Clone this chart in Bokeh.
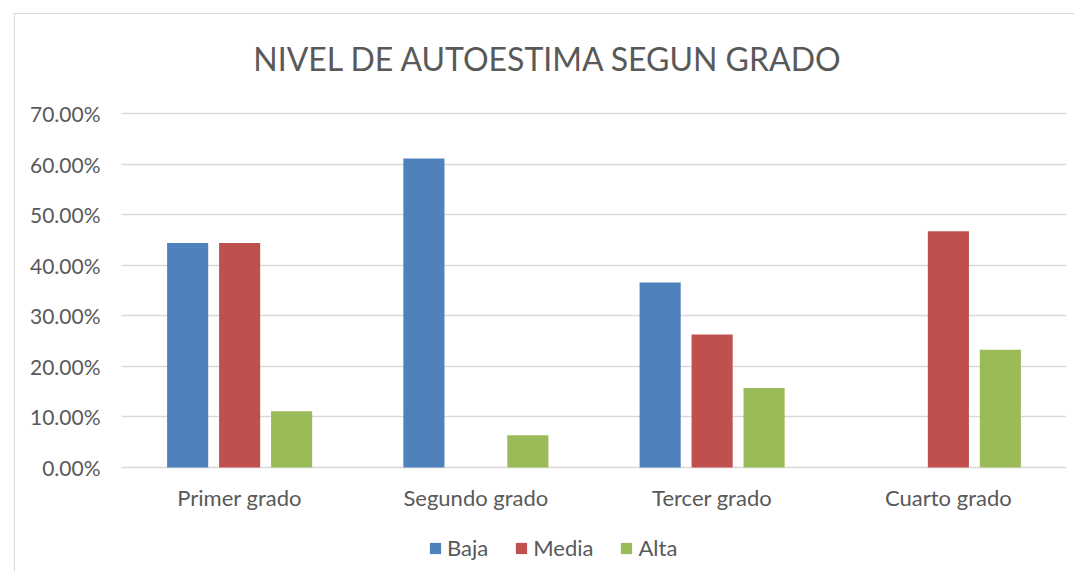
from bokeh.plotting import figure
from bokeh.models import (ColumnDataSource, Range1d, FixedTicker, NumeralTickFormatter,
                          Legend, LegendItem, Label)
from bokeh.core.properties import value
from bokeh.transform import dodge
from bokeh.embed import file_html
from bokeh.resources import INLINE

title = "NIVEL DE AUTOESTIMA SEGUN GRADO"
categories = ["Primer grado", "Segundo grado", "Tercer grado", "Cuarto grado"]
series = ["Baja", "Media", "Alta"]
baja = [0.444, 0.611, 0.366, 0.0]
media = [0.444, 0.0, 0.263, 0.467]
alta = [0.111, 0.064, 0.157, 0.233]
colors = ["#4F81BD", "#C0504D", "#9BBB59"]
y_ticks = [0.0, 0.1, 0.2, 0.3, 0.4, 0.5, 0.6, 0.7]

FONT = "Lato"
TXT = "#595959"

xpos = [i + 0.5 for i in range(len(categories))]
src = ColumnDataSource(dict(x=xpos, Baja=baja, Media=media, Alta=alta))
lab_src = ColumnDataSource(dict(x=xpos, y=[-0.0593] * len(categories), text=categories))

# px per unit = 354 / 0.7
p = figure(width=1060, height=558, output_backend="svg", toolbar_location=None,
           x_range=Range1d(0, len(categories)), y_range=Range1d(-0.20763, 0.89576),
           min_border_left=106, min_border_right=9, min_border_top=0,
           min_border_bottom=0)
p.margin = (13, 0, 0, 14)
p.styles = {"border-left": "1px solid #d9d9d9", "border-top": "1px solid #d9d9d9"}
p.outline_line_color = None
p.background_fill_color = "white"
p.border_fill_color = "white"

renderers = []
offsets = [-0.22, 0.0, 0.22]
for s, c, off in zip(series, colors, offsets):
    r = p.vbar(x=dodge("x", off, range=p.x_range), top=s, width=0.174, source=src,
               fill_color=c, line_color=None)
    renderers.append(r)

p.text(x="x", y="y", text="text", source=lab_src, text_align="center",
       text_baseline="middle", text_font=value(FONT), text_font_size="22px",
       text_color=TXT)

p.add_layout(Label(x=1.8074, y=0.80876, text=title, text_align="center",
                   text_baseline="middle", text_font=FONT, text_font_size="32px",
                   text_color=TXT))

p.xaxis.visible = False
p.yaxis.ticker = FixedTicker(ticks=y_ticks)
p.yaxis.formatter = NumeralTickFormatter(format="0.00%")
p.yaxis.axis_line_color = None
p.yaxis.major_tick_line_color = None
p.yaxis.minor_tick_line_color = None
p.yaxis.major_label_text_font = FONT
p.yaxis.major_label_text_font_size = "21px"
p.yaxis.major_label_text_color = TXT
p.yaxis.major_label_standoff = 15
p.xgrid.grid_line_color = None
p.ygrid.ticker = FixedTicker(ticks=y_ticks)
p.ygrid.grid_line_color = "#D9D9D9"
p.ygrid.grid_line_width = 1.5

legend = Legend(items=[LegendItem(label=s, renderers=[r]) for s, r in zip(series, renderers)],
                orientation="horizontal", location=(307, 11), padding=0, margin=0,
                spacing=26, glyph_width=14, glyph_height=14, label_standoff=5,
                label_height=20, label_text_font=FONT, label_text_font_size="22px",
                label_text_color=TXT, border_line_color=None,
                background_fill_alpha=0)
p.add_layout(legend, "center")

open("out.html", "w").write(file_html(p, INLINE))
